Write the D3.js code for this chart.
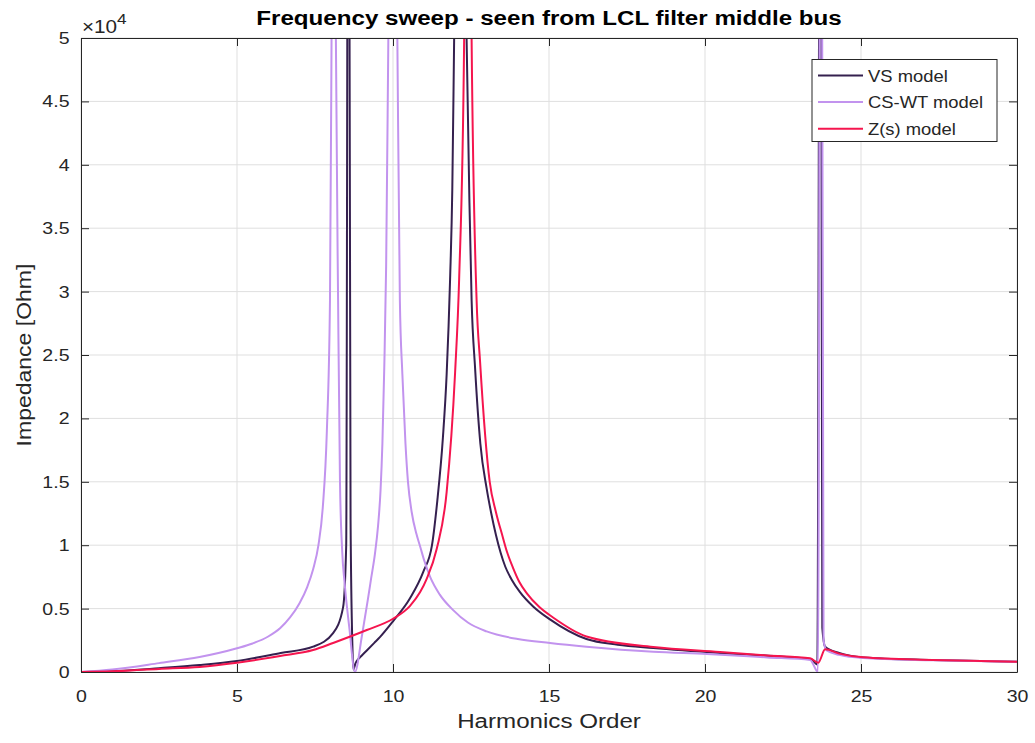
<!DOCTYPE html>
<html>
<head>
<meta charset="utf-8">
<script src="https://cdn.jsdelivr.net/npm/d3@7"></script>
<style>
  body { margin: 0; background: #fff; }
  text { font-family: "Liberation Sans", Arial, sans-serif; fill: #262626; }
</style>
</head>
<body>
<div id="chart"></div>
<script>
/* Frequency sweep seen from the LCL filter middle bus */

// VS model
const hVS = [0, 1, 2.5, 3.8, 5, 6.4, 7.44, 8.08, 8.4, 8.5, 8.57, 8.64, 8.7, 8.73, 8.8, 8.9, 9.0, 9.16, 9.4, 9.58, 10.0,
             10.54, 10.97, 11.25, 11.42, 11.6, 11.72, 11.83, 11.9, 11.96, 12.16, 12.36, 12.45, 12.52, 12.63, 12.8, 13.0,
             13.15, 13.3, 13.45, 13.6, 13.8, 14.07, 14.5, 15.03, 16.2, 17.2, 18.34, 20.48, 22.5, 23.4, 23.6, 23.7, 23.76,
             23.85, 24.3, 25.07, 27.3, 30];
const zVS = [0, 60, 300, 550, 870, 1500, 2000, 3070, 5100, 10000, 90000, 12000, 2000, 200, 700, 1050, 1300, 1700, 2300, 2750, 4000,
             5800, 7900, 10000, 13500, 18500, 23500, 31000, 38000, 50000, 90000, 49800, 37000, 29300, 24000, 18000, 14500,
             12500, 10800, 9400, 8300, 7300, 6300, 5150, 4150, 2600, 2150, 1890, 1500, 1200, 1000, 600, 90000, 3500,
             2000, 1500, 1150, 950, 800];

// CS-WT model
const hCS = [0, 1, 2.5, 3.8, 5, 5.5, 6.0, 6.38, 6.7, 7.0, 7.25, 7.44, 7.61, 7.75, 7.88, 7.98, 8.03, 8.1, 8.17, 8.24,
             8.3, 8.37, 8.45, 8.6, 8.78, 9.0, 9.1, 9.2, 9.3, 9.42, 9.52, 9.6, 9.66, 9.72, 9.78, 9.85, 10.0, 10.14, 10.22,
             10.3, 10.4, 10.48, 10.6, 10.75, 10.87, 11.0, 11.19, 11.5, 11.92, 12.4, 13.0, 14.0, 15.03, 16.2, 18.34, 20.06,
             22.0, 23.37, 23.62, 23.72, 23.8, 23.9, 24.3, 25.06, 27.3, 30];
const zCS = [0, 200, 700, 1180, 1870, 2250, 2800, 3450, 4300, 5400, 6700, 8100, 10000, 13000, 19000, 29300, 49800, 90000, 49800, 29300,
             15100, 9600, 7000, 3500, 0, 2800, 4300, 5800, 7400, 9300, 11500, 14300, 18000, 24000, 32000, 49800, 90000, 49800, 29300,
             23500, 18000, 15000, 12600, 10900, 9900, 8800, 7500, 6100, 4900, 3900, 3200, 2600, 2290, 2000, 1600, 1420,
             1150, 950, 0, 90000, 2500, 1700, 1350, 1100, 920, 800];

// Z(s) model
const hZs = [0, 1, 2.5, 3.8, 5, 6.38, 7.44, 8.08, 9.16, 10.0, 10.54, 10.87, 11.08, 11.4, 11.72, 11.99, 12.12, 12.28, 12.4,
             12.52, 12.68, 12.79, 13.1, 13.3, 13.5, 13.65, 13.85, 14.05, 14.29, 14.7, 15.13, 16.2, 18.34, 20.48, 22.0,
             23.37, 23.63, 23.85, 24.3, 25.07, 27.3, 30];
const zZs = [0, 50, 240, 400, 730, 1260, 1730, 2290, 3310, 4200, 5200, 6300, 7350, 9700, 14200, 23600, 31000, 49800, 90000,
             49800, 29300, 24500, 15000, 12600, 10800, 9500, 8200, 7100, 6200, 5100, 4300, 2800, 1970, 1580, 1300,
             1080, 730, 1790, 1450, 1160, 950, 810];

const seriesNames = ["VS model", "CS-WT model", "Z(s) model"];
const seriesColors = ["#35204f", "#c293ee", "#f5154e"];

const xTicks = [0, 5, 10, 15, 20, 25, 30];
const yTicks = [0, 5000, 10000, 15000, 20000, 25000, 30000, 35000, 40000, 45000, 50000];

const series = [
    { name: seriesNames[0], color: seriesColors[0], pts: hVS.map((h, i) => [h, zVS[i]]) },
    { name: seriesNames[1], color: seriesColors[1], pts: hCS.map((h, i) => [h, zCS[i]]) },
    { name: seriesNames[2], color: seriesColors[2], pts: hZs.map((h, i) => [h, zZs[i]]) }
];

const width = 1035,
      height = 743,
      margin = ({ top: 38, right: 18, bottom: 71, left: 81 }),
      sx = 1.15; // text in the picture is a bit wider than the font

const svg = d3.select("#chart")
    .append("svg")
    .attr("width", width)
    .attr("height", height);

const x = d3.scaleLinear()
    .domain([0, 30])
    .range([margin.left, width - margin.right]);

const y = d3.scaleLinear()
    .domain([0, 50000])
    .range([height - margin.bottom, margin.top]);

// grid
svg.append("g")
    .selectAll("line")
    .data(xTicks)
    .join("line")
    .attr("x1", d => x(d)).attr("x2", d => x(d))
    .attr("y1", y(0)).attr("y2", y(50000))
    .attr("stroke", "#dfdfdf");

svg.append("g")
    .selectAll("line")
    .data(yTicks)
    .join("line")
    .attr("x1", x(0)).attr("x2", x(30))
    .attr("y1", d => y(d)).attr("y2", d => y(d))
    .attr("stroke", "#dfdfdf");

svg.append("clipPath")
    .attr("id", "plot-clip")
    .append("rect")
    .attr("x", x(0)).attr("y", y(50000))
    .attr("width", x(30) - x(0)).attr("height", y(0) - y(50000));

const line = d3.line()
    .x(d => x(d[0]))
    .y(d => y(d[1]))
    .curve(d3.curveMonotoneX);

svg.append("g")
    .attr("clip-path", "url(#plot-clip)")
    .selectAll("path")
    .data(series)
    .join("path")
    .attr("fill", "none")
    .attr("stroke", d => d.color)
    .attr("stroke-width", 2)
    .attr("stroke-linejoin", "round")
    .attr("d", d => line(d.pts));

// axes, ticks pointing inward on all four sides
const tickLen = 8;
const styleAxis = g => {
    g.select(".domain").attr("stroke", "#262626");
    g.selectAll(".tick line").attr("stroke", "#262626");
    g.selectAll(".tick text")
        .attr("fill", "#262626")
        .style("font-size", "17px")
        .style("font-family", '"Liberation Sans", Arial, sans-serif');
};

svg.append("g")
    .attr("transform", `translate(0, ${y(0)})`)
    .call(d3.axisBottom(x).tickValues(xTicks).tickSizeInner(-tickLen).tickSizeOuter(0).tickPadding(18))
    .call(styleAxis);

svg.append("g")
    .attr("transform", `translate(${x(0)}, 0)`)
    .call(d3.axisLeft(y).tickValues(yTicks).tickSizeInner(-tickLen).tickSizeOuter(0).tickPadding(10)
        .tickFormat(d => d3.format("~g")(d / 10000)))
    .call(styleAxis);

svg.append("g")
    .attr("transform", `translate(0, ${y(50000)})`)
    .call(d3.axisTop(x).tickValues(xTicks).tickSizeInner(-tickLen).tickSizeOuter(0).tickFormat(""))
    .call(styleAxis);

svg.append("g")
    .attr("transform", `translate(${x(30)}, 0)`)
    .call(d3.axisRight(y).tickValues(yTicks).tickSizeInner(-tickLen).tickSizeOuter(0).tickFormat(""))
    .call(styleAxis);

svg.selectAll(".tick text").attr("transform", `scale(${sx},1)`);

// texts
const label = (txt, tx, ty, size, anchor, extra) => svg.append("text")
    .attr("transform", `translate(${tx}, ${ty}) ${extra || ""} scale(${sx},1)`)
    .attr("text-anchor", anchor)
    .style("font-size", size + "px")
    .text(txt);

label("Frequency sweep - seen from LCL filter middle bus", (x(0) + x(30)) / 2, 25, 21, "middle")
    .style("font-weight", "bold")
    .style("fill", "#000");
label("Harmonics Order", (x(0) + x(30)) / 2, 728, 21, "middle");
label("Impedance [Ohm]", 31, (y(0) + y(50000)) / 2, 20, "middle", "rotate(-90)");

const expo = label("", 82, 33, 18, "start");
expo.append("tspan").text("\u00d710");
expo.append("tspan").attr("dy", -9).style("font-size", "15px").text("4");

// legend
const lg = svg.append("g").attr("transform", "translate(812, 59.5)");
lg.append("rect")
    .attr("width", 185).attr("height", 82)
    .attr("fill", "#fff")
    .attr("stroke", "#262626");

const item = lg.selectAll("g.item")
    .data(series)
    .join("g")
    .attr("class", "item")
    .attr("transform", (d, i) => `translate(0, ${16 + i * 26.6})`);

item.append("line")
    .attr("x1", 6).attr("x2", 51)
    .attr("stroke", d => d.color)
    .attr("stroke-width", 2);

item.append("text")
    .attr("transform", `translate(56, 6) scale(${sx},1)`)
    .style("font-size", "16px")
    .text(d => d.name);
</script>
</body>
</html>
